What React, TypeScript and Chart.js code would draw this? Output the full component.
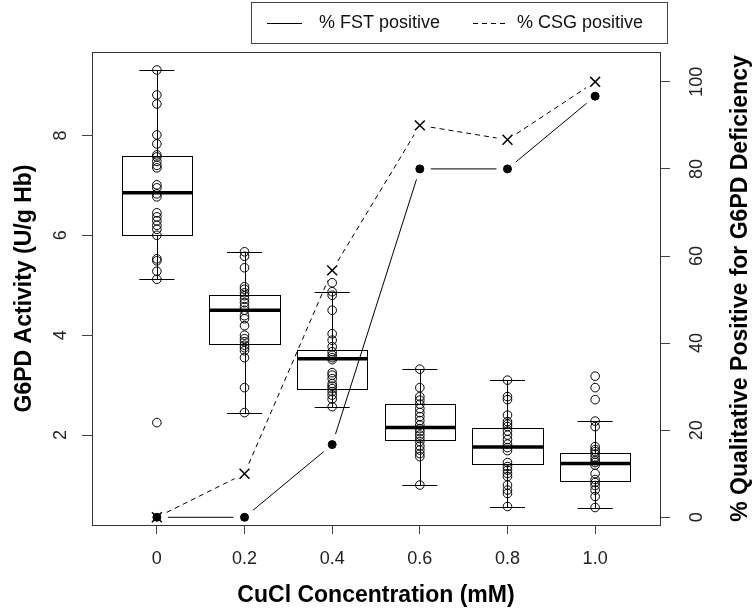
import React, { useEffect, useRef } from "react";
import { Chart, registerables } from "chart.js";

Chart.register(...registerables);

// ---------- data ----------
const categories = ["0", "0.2", "0.4", "0.6", "0.8", "1.0"];

const activity00 = [9.31, 8.81, 8.63, 8.01, 7.83, 7.61, 7.57, 7.48, 7.4, 7.35, 7.01, 6.95, 6.83, 6.77, 6.45, 6.37, 6.29, 6.2, 6.12, 6.0, 5.53, 5.49, 5.28, 5.12, 2.25];
const activity02 = [5.67, 5.58, 5.35, 4.97, 4.92, 4.85, 4.79, 4.72, 4.65, 4.57, 4.5, 4.39, 4.33, 4.19, 4.0, 3.93, 3.87, 3.8, 3.75, 3.69, 3.55, 2.95, 2.45];
const activity04 = [5.05, 4.87, 4.8, 4.5, 4.03, 3.9, 3.77, 3.67, 3.6, 3.55, 3.51, 3.25, 3.2, 3.13, 3.03, 2.98, 2.93, 2.87, 2.8, 2.72, 2.57];
const activity06 = [3.32, 2.95, 2.77, 2.7, 2.62, 2.53, 2.45, 2.37, 2.29, 2.2, 2.13, 2.07, 2.0, 1.93, 1.87, 1.78, 1.7, 1.63, 1.57, 1.0];
const activity08 = [3.1, 2.77, 2.71, 2.4, 2.27, 2.22, 2.17, 2.08, 2.0, 1.91, 1.82, 1.75, 1.69, 1.45, 1.37, 1.3, 1.23, 1.17, 1.0, 0.9, 0.83, 0.57];
const activity10 = [3.18, 2.95, 2.71, 2.28, 2.17, 1.77, 1.71, 1.67, 1.62, 1.55, 1.49, 1.45, 1.4, 1.23, 1.11, 1.05, 0.99, 0.9, 0.77, 0.55];

const whiskerLow = [5.12, 2.45, 2.57, 1.0, 0.57, 0.55];
const quartile1 = [6.0, 3.82, 2.93, 1.9, 1.42, 1.08];
const medians = [6.85, 4.5, 3.53, 2.15, 1.76, 1.43];
const quartile3 = [7.59, 4.81, 3.71, 2.63, 2.15, 1.65];
const whiskerHigh = [9.31, 5.67, 4.87, 3.32, 3.1, 2.28];

const fstPositive = [0, 0, 16.7, 80, 80, 96.7];
const csgPositive = [0, 10, 56.7, 90, 86.7, 100];

const leftTicks = [2, 4, 6, 8];
const rightTicks = [0, 20, 40, 60, 80, 100];

const FONT = "'Liberation Sans', Arial, Helvetica, sans-serif";

export default function App() {
  const ref = useRef<HTMLCanvasElement>(null);

  useEffect(() => {
    const canvas = ref.current!;
    const groups = [activity00, activity02, activity04, activity06, activity08, activity10];
    const points = groups.flatMap((g, i) => g.map((v) => ({ x: i, y: v })));

    const crisp = (v: number) => Math.round(v) + 0.5;

    const boxPlugin = {
      id: "boxes",
      beforeDatasetsDraw(chart: any) {
        const ctx = chart.ctx;
        const xs = chart.scales.x;
        const ys = chart.scales.y;
        ctx.save();
        ctx.strokeStyle = "#000";
        categories.forEach((_, i) => {
          const xl = crisp(xs.getPixelForValue(i - 0.4));
          const xr = crisp(xs.getPixelForValue(i + 0.4));
          const xc = crisp(xs.getPixelForValue(i));
          const cl = xs.getPixelForValue(i - 0.2);
          const cr = xs.getPixelForValue(i + 0.2);
          const yLo = crisp(ys.getPixelForValue(whiskerLow[i]));
          const yQ1 = crisp(ys.getPixelForValue(quartile1[i]));
          const yMed = ys.getPixelForValue(medians[i]);
          const yQ3 = crisp(ys.getPixelForValue(quartile3[i]));
          const yHi = crisp(ys.getPixelForValue(whiskerHigh[i]));
          ctx.lineWidth = 1;
          ctx.setLineDash([]);
          ctx.beginPath();
          ctx.moveTo(xc, yQ3);
          ctx.lineTo(xc, yHi);
          ctx.moveTo(xc, yQ1);
          ctx.lineTo(xc, yLo);
          ctx.moveTo(cl, yHi);
          ctx.lineTo(cr, yHi);
          ctx.moveTo(cl, yLo);
          ctx.lineTo(cr, yLo);
          ctx.stroke();
          ctx.strokeRect(xl, yQ3, xr - xl, yQ1 - yQ3);
          ctx.lineWidth = 3.5;
          ctx.beginPath();
          ctx.moveTo(xl, yMed);
          ctx.lineTo(xr, yMed);
          ctx.stroke();
        });
        ctx.restore();
      },
    };

    const linePlugin = {
      id: "gappedLines",
      afterDatasetsDraw(chart: any) {
        const ctx = chart.ctx;
        const gap = 11;
        [1, 2].forEach((di) => {
          const meta = chart.getDatasetMeta(di);
          const pts = meta.data;
          ctx.save();
          ctx.strokeStyle = "#000";
          ctx.lineWidth = 1;
          ctx.setLineDash(di === 2 ? [5, 4] : []);
          for (let j = 0; j < pts.length - 1; j++) {
            const p = pts[j];
            const q = pts[j + 1];
            const dx = q.x - p.x;
            const dy = q.y - p.y;
            const len = Math.hypot(dx, dy);
            if (len <= 2 * gap) continue;
            const ux = dx / len;
            const uy = dy / len;
            ctx.beginPath();
            ctx.moveTo(p.x + ux * gap, p.y + uy * gap);
            ctx.lineTo(q.x - ux * gap, q.y - uy * gap);
            ctx.stroke();
          }
          ctx.restore();
        });
      },
    };

    const decorPlugin = {
      id: "decor",
      afterDraw(chart: any) {
        const ctx = chart.ctx;
        const a = chart.chartArea;
        ctx.save();
        // frame
        ctx.strokeStyle = "#333";
        ctx.lineWidth = 1;
        ctx.setLineDash([]);
        ctx.strokeRect(crisp(a.left), crisp(a.top), Math.round(a.right - a.left), Math.round(a.bottom - a.top));

        // axis titles
        ctx.fillStyle = "#000";
        ctx.font = `bold 23px ${FONT}`;
        ctx.textAlign = "center";
        ctx.textBaseline = "middle";
        ctx.fillText("CuCl Concentration (mM)", (a.left + a.right) / 2, 596);
        const midY = (a.top + a.bottom) / 2;
        ctx.save();
        ctx.translate(25, midY);
        ctx.rotate(-Math.PI / 2);
        ctx.fillText("G6PD Activity (U/g Hb)", 0, 0);
        ctx.restore();
        ctx.save();
        ctx.translate(741, midY);
        ctx.rotate(-Math.PI / 2);
        ctx.fillText("% Qualitative Positive for G6PD Deficiency", 0, 0);
        ctx.restore();

        // legend
        ctx.strokeStyle = "#444";
        ctx.strokeRect(251.5, 2.5, 416, 41);
        ctx.strokeStyle = "#000";
        ctx.beginPath();
        ctx.moveTo(267, 23.5);
        ctx.lineTo(302, 23.5);
        ctx.stroke();
        ctx.setLineDash([5, 4]);
        ctx.beginPath();
        ctx.moveTo(473, 23.5);
        ctx.lineTo(506, 23.5);
        ctx.stroke();
        ctx.setLineDash([]);
        ctx.font = `18px ${FONT}`;
        ctx.textAlign = "left";
        ctx.fillStyle = "#111";
        ctx.fillText(chart.data.datasets[1].label, 319, 23.5);
        ctx.fillText(chart.data.datasets[2].label, 517, 23.5);
        ctx.restore();
      },
    };

    const tickFont = { family: FONT, size: 18 };

    const chart = new Chart(canvas, {
      type: "scatter",
      data: {
        datasets: [
          {
            label: "G6PD Activity",
            data: points,
            yAxisID: "y",
            pointStyle: "circle",
            pointRadius: 4.3,
            pointBorderWidth: 1,
            pointBorderColor: "#000",
            pointBackgroundColor: "rgba(0,0,0,0)",
            showLine: false,
          },
          {
            label: "% FST positive",
            data: fstPositive.map((v, i) => ({ x: i, y: v })),
            yAxisID: "y2",
            pointStyle: "circle",
            pointRadius: 4,
            pointBorderWidth: 1,
            pointBorderColor: "#000",
            pointBackgroundColor: "#000",
            showLine: false,
          },
          {
            label: "% CSG positive",
            data: csgPositive.map((v, i) => ({ x: i, y: v })),
            yAxisID: "y2",
            pointStyle: "crossRot",
            pointRadius: 7,
            pointBorderWidth: 1.5,
            pointBorderColor: "#000",
            pointBackgroundColor: "#000",
            showLine: false,
          },
        ],
      },
      options: {
        responsive: false,
        animation: false,
        events: [],
        layout: { padding: { top: 52 } },
        plugins: { legend: { display: false }, tooltip: { enabled: false } },
        scales: {
          x: {
            type: "linear",
            min: -0.74,
            max: 5.74,
            afterBuildTicks: (s: any) => {
              s.ticks = categories.map((_, i) => ({ value: i }));
            },
            afterFit: (s: any) => {
              s.height = 87;
            },
            ticks: {
              callback: (v: any) => categories[Math.round(v)],
              font: tickFont,
              color: "#222",
              padding: 14,
              maxRotation: 0,
              autoSkip: false,
            },
            grid: { drawOnChartArea: false, drawTicks: true, tickLength: 9, color: "#444" },
            border: { display: false },
          },
          y: {
            type: "linear",
            position: "left",
            min: 0.2,
            max: 9.67,
            afterBuildTicks: (s: any) => {
              s.ticks = leftTicks.map((v) => ({ value: v }));
            },
            afterFit: (s: any) => {
              s.width = 92;
            },
            ticks: {
              font: tickFont,
              color: "#222",
              padding: 16,
              minRotation: 90,
              maxRotation: 90,
              crossAlign: "center",
            },
            grid: { drawOnChartArea: false, drawTicks: true, tickLength: 10, color: "#444" },
            border: { display: false },
          },
          y2: {
            type: "linear",
            position: "right",
            min: -1.77,
            max: 106.85,
            afterBuildTicks: (s: any) => {
              s.ticks = rightTicks.map((v) => ({ value: v }));
            },
            afterFit: (s: any) => {
              s.width = 94;
            },
            ticks: {
              font: tickFont,
              color: "#222",
              padding: 12,
              minRotation: 90,
              maxRotation: 90,
              crossAlign: "center",
            },
            grid: { drawOnChartArea: false, drawTicks: true, tickLength: 10, color: "#444" },
            border: { display: false },
          },
        },
      },
      plugins: [boxPlugin, linePlugin, decorPlugin],
    } as any);

    return () => chart.destroy();
  }, []);

  return (
    <div style={{ position: "absolute", left: 0, top: 0, width: 754, height: 612, background: "#fff" }}>
      <canvas ref={ref} width={754} height={612} style={{ display: "block" }} />
    </div>
  );
}
